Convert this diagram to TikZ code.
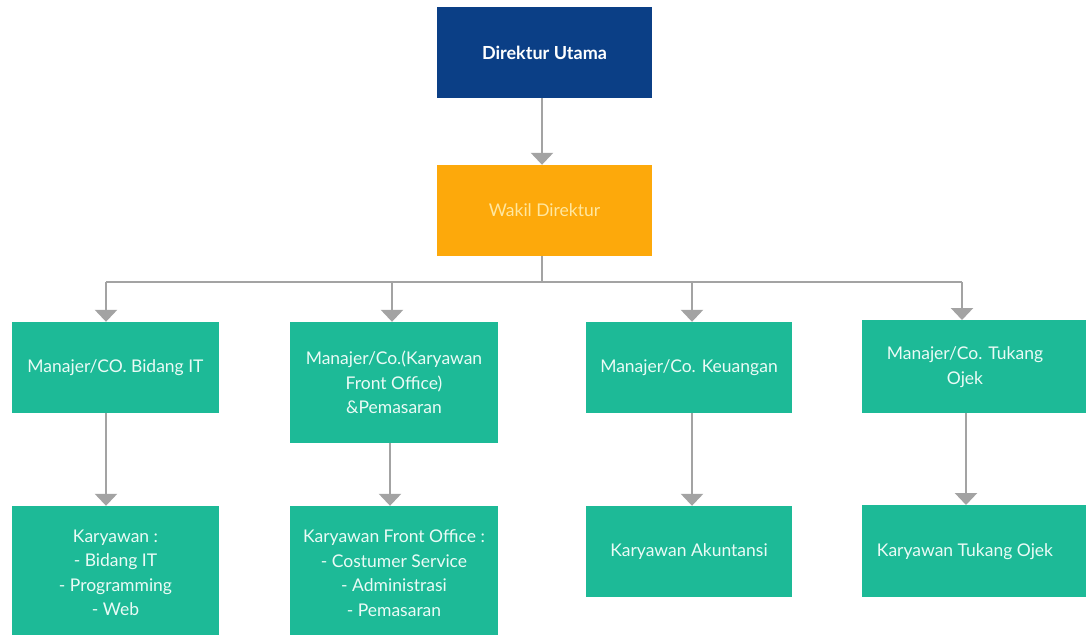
\documentclass[tikz,border=0pt]{standalone}
\usepackage{fontspec}
\setmainfont{Lato}
\usetikzlibrary{arrows.meta}
\definecolor{dirblue}{HTML}{0B3F86}
\definecolor{wakorange}{HTML}{FDA90B}
\definecolor{teal}{HTML}{1DBA97}
\definecolor{linegray}{HTML}{A3A3A3}
\definecolor{txtwhite}{HTML}{EAFBF6}
\definecolor{txtyellow}{HTML}{FFE7A0}
\tikzset{
  box/.style={rectangle, inner sep=0pt, align=center, font=\fontsize{17.5}{24.5}\selectfont},
  dirbox/.style={box, fill=dirblue, text=white, font=\bfseries\fontsize{18}{24.5}\selectfont},
  wakbox/.style={box, fill=wakorange, text=txtyellow},
  tealbox/.style={box, fill=teal, text=txtwhite},
  conn/.style={draw=linegray, line width=2.6pt, -{Triangle[width=22pt,length=12pt]}},
  plain/.style={draw=linegray, line width=2.6pt}
}
\begin{document}
\begin{tikzpicture}[x=1pt,y=-1pt]
\useasboundingbox (0,0) rectangle (1086,634);
\clip (0,0) rectangle (1086,634);
\fill[white] (0,0) rectangle (1086,634);
% top
\node[dirbox, minimum width=215pt, minimum height=91pt] (dir) at (544.5,52.5) {Direktur Utama};
\node[wakbox, minimum width=215pt, minimum height=91pt] (wak) at (544.5,210.5) {Wakil Direktur};
% managers
\node[tealbox, minimum width=207pt, minimum height=91pt] (m1) at (115.5,367.5) {Manajer/CO. Bidang IT};
\node[tealbox, minimum width=208pt, minimum height=121pt] (m2) at (394,382.5) {Manajer/Co.(Karyawan\\Front Office)\\\&Pemasaran};
\node[tealbox, minimum width=206pt, minimum height=91pt] (m3) at (689,367.5) {Manajer/Co. Keuangan};
\node[tealbox, minimum width=240pt, minimum height=93pt, anchor=north west] (m4) at (862,320) {};
\node[tealbox] (m4t) at (965,367) {Manajer/Co. Tukang\\Ojek};
% staff
\node[tealbox, minimum width=207pt, minimum height=134pt] (k1) at (115.5,573) {Karyawan :\\- Bidang IT\\- Programming\\- Web};
\node[tealbox, minimum width=208pt, minimum height=134pt] (k2) at (394,573) {Karyawan Front Office :\\- Costumer Service\\- Administrasi\\- Pemasaran};
\node[tealbox, minimum width=206pt, minimum height=91pt] (k3) at (689,551.5) {Karyawan Akuntansi};
\node[tealbox, minimum width=240pt, minimum height=92pt, anchor=north west] (k4) at (862,505) {};
\node[tealbox] (k4t) at (965,552) {Karyawan Tukang Ojek};
% connectors
\draw[conn] ([xshift=-2.5pt]dir.south) -- ([xshift=-2.5pt]wak.north);
\coordinate (bus) at (542,282);
\draw[plain] ([xshift=-2.5pt]wak.south) -- (bus);
\draw[plain] (bus -| 106,0) -- (bus -| 962,0);
\draw[conn] (bus -| 106,0) -- ([xshift=-9.5pt]m1.north);
\draw[conn] (bus -| 392,0) -- ([xshift=-2pt]m2.north);
\draw[conn] (bus -| 692,0) -- ([xshift=3pt]m3.north);
\draw[conn] (bus -| 962,0) -- (m4.north west -| 962,0);
\draw[conn] ([xshift=-9.5pt]m1.south) -- ([xshift=-9.5pt]k1.north);
\draw[conn] ([xshift=-4pt]m2.south) -- ([xshift=-4pt]k2.north);
\draw[conn] ([xshift=3pt]m3.south) -- ([xshift=3pt]k3.north);
\draw[conn] (m4.south west -| 966,0) -- (k4.north west -| 966,0);
\end{tikzpicture}
\end{document}
